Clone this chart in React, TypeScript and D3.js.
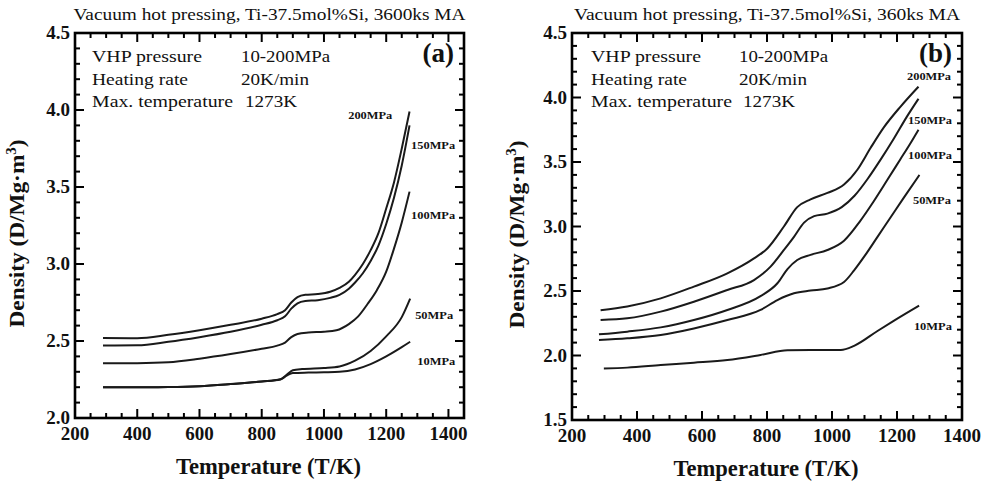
import React from 'react';
import * as d3 from 'd3';

type Pt = [number, number];

// ---------- DATA ----------
const pressureLabels = ['200MPa', '150MPa', '100MPa', '50MPa', '10MPa'];

// Panel (a): 3600ks MA  (T in K, density in Mg/m^3)
const a200: Pt[] = [[290, 2.52], [400, 2.518], [500, 2.54], [600, 2.57], [700, 2.605], [800, 2.645], [850, 2.675], [875, 2.70], [895, 2.75], [915, 2.785], [940, 2.80], [980, 2.805], [1020, 2.82], [1050, 2.845], [1080, 2.885], [1100, 2.93], [1125, 3.0], [1150, 3.09], [1175, 3.2], [1200, 3.36], [1225, 3.53], [1250, 3.75], [1275, 3.99]];
const a150: Pt[] = [[290, 2.47], [400, 2.472], [500, 2.495], [600, 2.525], [700, 2.56], [800, 2.605], [850, 2.635], [875, 2.66], [895, 2.71], [915, 2.745], [940, 2.76], [980, 2.765], [1020, 2.78], [1050, 2.80], [1080, 2.84], [1100, 2.88], [1125, 2.94], [1150, 3.02], [1175, 3.12], [1200, 3.26], [1225, 3.43], [1250, 3.64], [1275, 3.90]];
const a100: Pt[] = [[290, 2.355], [400, 2.356], [500, 2.362], [600, 2.385], [700, 2.415], [800, 2.45], [850, 2.47], [875, 2.49], [895, 2.525], [915, 2.545], [950, 2.555], [1000, 2.56], [1040, 2.57], [1080, 2.61], [1110, 2.66], [1140, 2.74], [1170, 2.83], [1200, 2.95], [1225, 3.10], [1250, 3.27], [1275, 3.47]];
const a50: Pt[] = [[290, 2.20], [400, 2.20], [500, 2.201], [600, 2.206], [700, 2.22], [800, 2.237], [860, 2.252], [880, 2.28], [900, 2.31], [930, 2.318], [1000, 2.325], [1050, 2.335], [1100, 2.372], [1150, 2.435], [1200, 2.53], [1250, 2.655], [1277, 2.775]];
const a10: Pt[] = [[290, 2.20], [400, 2.20], [500, 2.201], [600, 2.206], [700, 2.22], [800, 2.237], [860, 2.25], [880, 2.275], [900, 2.292], [950, 2.295], [1000, 2.297], [1050, 2.30], [1100, 2.315], [1150, 2.35], [1200, 2.40], [1250, 2.46], [1277, 2.495]];

// Panel (b): 360ks MA
const b200: Pt[] = [[288, 2.35], [370, 2.38], [473, 2.443], [575, 2.534], [678, 2.637], [760, 2.753], [801, 2.83], [852, 3.0], [893, 3.15], [934, 3.21], [986, 3.26], [1037, 3.325], [1078, 3.44], [1119, 3.61], [1160, 3.77], [1211, 3.93], [1266, 4.084]];
const b150: Pt[] = [[288, 2.275], [370, 2.288], [473, 2.34], [575, 2.417], [678, 2.508], [760, 2.585], [811, 2.689], [852, 2.818], [883, 2.92], [914, 3.03], [945, 3.08], [986, 3.10], [1030, 3.15], [1070, 3.24], [1110, 3.37], [1150, 3.52], [1190, 3.68], [1230, 3.85], [1266, 3.99]];
const b100: Pt[] = [[283, 2.164], [370, 2.185], [473, 2.218], [575, 2.275], [678, 2.353], [780, 2.46], [832, 2.56], [863, 2.67], [893, 2.74], [934, 2.78], [986, 2.818], [1037, 2.89], [1086, 3.04], [1127, 3.19], [1170, 3.36], [1210, 3.52], [1240, 3.64], [1266, 3.75]];
const b50: Pt[] = [[283, 2.12], [370, 2.133], [473, 2.159], [575, 2.21], [678, 2.275], [780, 2.353], [832, 2.43], [883, 2.482], [934, 2.503], [986, 2.52], [1037, 2.57], [1068, 2.66], [1100, 2.77], [1140, 2.92], [1180, 3.07], [1220, 3.22], [1269, 3.40]];
const b10: Pt[] = [[298, 1.90], [370, 1.906], [473, 1.926], [575, 1.944], [678, 1.965], [780, 2.004], [863, 2.04], [934, 2.043], [1027, 2.043], [1068, 2.075], [1140, 2.19], [1191, 2.27], [1268, 2.386]];

const xMajorTicks = [200, 400, 600, 800, 1000, 1200, 1400];
const yMajorTicksA = [2.0, 2.5, 3.0, 3.5, 4.0, 4.5];
const yMajorTicksB = [1.5, 2.0, 2.5, 3.0, 3.5, 4.0, 4.5];

// label anchor positions (data units)
const labelPosA: Pt[] = [[1078, 3.94], [1280, 3.747], [1280, 3.292], [1293, 2.643], [1300, 2.344]];
const labelPosB: Pt[] = [[1231, 4.136], [1234, 3.795], [1234, 3.523], [1249, 3.174], [1252, 2.198]];

const infoKeys = ['VHP pressure', 'Heating rate', 'Max. temperature'];
const infoVals = ['10-200MPa', '20K/min', '1273K'];
const infoKeyLens = [110, 96, 141];
const infoValLens = [89, 68, 52];

const FONT = "'Liberation Serif', 'Times New Roman', Times, serif";

interface PanelProps {
  left: number; right: number; top: number; bottom: number;
  xDomain: [number, number]; yDomain: [number, number];
  yTicks: number[];
  series: Pt[][];
  labelPos: Pt[];
  title: string; titleLen: number;
  letter: string;
  keyX: number; valX: number;
  yLabelX: number;
}

function Panel(p: PanelProps) {
  const x = d3.scaleLinear().domain(p.xDomain).range([p.left, p.right]);
  const y = d3.scaleLinear().domain(p.yDomain).range([p.bottom, p.top]);
  const line = d3.line<Pt>().x(d => x(d[0])).y(d => y(d[1])).curve(d3.curveMonotoneX);
  const xMinor = d3.range(p.xDomain[0], p.xDomain[1] + 0.1, 50);
  const yMinor = d3.range(0, Math.round((p.yDomain[1] - p.yDomain[0]) / 0.1) + 1).map(i => p.yDomain[0] + i * 0.1);
  const majLen = 9, minLen = 5;
  const isMajorX = (v: number) => xMajorTicks.includes(v);
  const isMajorY = (v: number) => p.yTicks.some(t => Math.abs(t - v) < 1e-6);
  const cx = (p.left + p.right) / 2;
  const cy = (p.top + p.bottom) / 2;
  return (
    <g>
      <text x={cx} y={20} textAnchor="middle" fontFamily={FONT} fontSize={17} fill="#111"
        textLength={p.titleLen} lengthAdjust="spacingAndGlyphs">{p.title}</text>
      {/* curves */}
      {p.series.map((s, i) => (
        <path key={i} d={line(s) || ''} fill="none" stroke="#1a1a1a" strokeWidth={2} />
      ))}
      {/* ticks */}
      {xMinor.map(v => {
        const L = isMajorX(v) ? majLen : minLen;
        return (
          <g key={'xt' + v}>
            <line x1={x(v)} x2={x(v)} y1={p.bottom} y2={p.bottom - L} stroke="#000" strokeWidth={2} />
            <line x1={x(v)} x2={x(v)} y1={p.top} y2={p.top + L} stroke="#000" strokeWidth={2} />
          </g>
        );
      })}
      {yMinor.map((v, i) => {
        const L = isMajorY(v) ? majLen : minLen;
        return (
          <g key={'yt' + i}>
            <line x1={p.left} x2={p.left + L} y1={y(v)} y2={y(v)} stroke="#000" strokeWidth={2} />
            <line x1={p.right} x2={p.right - L} y1={y(v)} y2={y(v)} stroke="#000" strokeWidth={2} />
          </g>
        );
      })}
      <rect x={p.left} y={p.top} width={p.right - p.left} height={p.bottom - p.top} fill="none" stroke="#000" strokeWidth={2.6} />
      {/* tick labels */}
      {xMajorTicks.map(v => (
        <text key={'xl' + v} x={x(v)} y={p.bottom + 22} textAnchor="middle" fontFamily={FONT} fontWeight="bold" fontSize={19} fill="#111">{v}</text>
      ))}
      {p.yTicks.map(v => (
        <text key={'yl' + v} x={p.left - 5} y={y(v) + 6} textAnchor="end" fontFamily={FONT} fontWeight="bold" fontSize={19} fill="#111">{v.toFixed(1)}</text>
      ))}
      {/* axis titles */}
      <text x={cx - 1} y={p.bottom + 56} textAnchor="middle" fontFamily={FONT} fontWeight="bold" fontSize={23} fill="#111"
        textLength={185} lengthAdjust="spacingAndGlyphs">Temperature (T/K)</text>
      <text transform={`translate(${p.yLabelX},${cy + 8}) rotate(-90)`} textAnchor="middle" fontFamily={FONT} fontWeight="bold" fontSize={22} fill="#111"
        textLength={188} lengthAdjust="spacingAndGlyphs">
        Density (D/Mg·m<tspan dy={-8} fontSize={14}>3</tspan><tspan dy={8}>)</tspan>
      </text>
      {/* info block */}
      {infoKeys.map((k, i) => (
        <g key={'info' + i}>
          <text x={p.keyX} y={62 + i * 22.5} fontFamily={FONT} fontSize={17} fill="#111"
            textLength={infoKeyLens[i]} lengthAdjust="spacingAndGlyphs">{k}</text>
          <text x={p.valX + (i === 2 ? 4 : 0)} y={62 + i * 22.5} fontFamily={FONT} fontSize={17} fill="#111"
            textLength={infoValLens[i]} lengthAdjust="spacingAndGlyphs">{infoVals[i]}</text>
        </g>
      ))}
      <text x={p.right - 10} y={62} textAnchor="end" fontFamily={FONT} fontWeight="bold" fontSize={27} fill="#111">{p.letter}</text>
      {/* pressure labels */}
      {pressureLabels.map((l, i) => (
        <text key={'pl' + i} x={x(p.labelPos[i][0])} y={y(p.labelPos[i][1])} fontFamily={FONT} fontWeight="bold" fontSize={11} fill="#111"
          textLength={l.length === 6 ? 44 : 38} lengthAdjust="spacingAndGlyphs">{l}</text>
      ))}
    </g>
  );
}

export default function App() {
  return (
    <svg width={988} height={487} style={{ position: 'absolute', left: 0, top: 0, background: '#fff' }}>
      <rect x={0} y={0} width={988} height={487} fill="#fff" />
      <Panel left={75} right={464} top={33} bottom={418} xDomain={[200, 1450]} yDomain={[2.0, 4.5]}
        yTicks={yMajorTicksA} series={[a200, a150, a100, a50, a10]} labelPos={labelPosA}
        title="Vacuum hot pressing, Ti-37.5mol%Si, 3600ks MA" titleLen={392} letter="(a)"
        keyX={92} valX={241} yLabelX={24} />
      <Panel left={572} right={962} top={33} bottom={420} xDomain={[200, 1400]} yDomain={[1.5, 4.5]}
        yTicks={yMajorTicksB} series={[b200, b150, b100, b50, b10]} labelPos={labelPosB}
        title="Vacuum hot pressing, Ti-37.5mol%Si, 360ks MA" titleLen={386} letter="(b)"
        keyX={591} valX={739} yLabelX={524} />
    </svg>
  );
}
